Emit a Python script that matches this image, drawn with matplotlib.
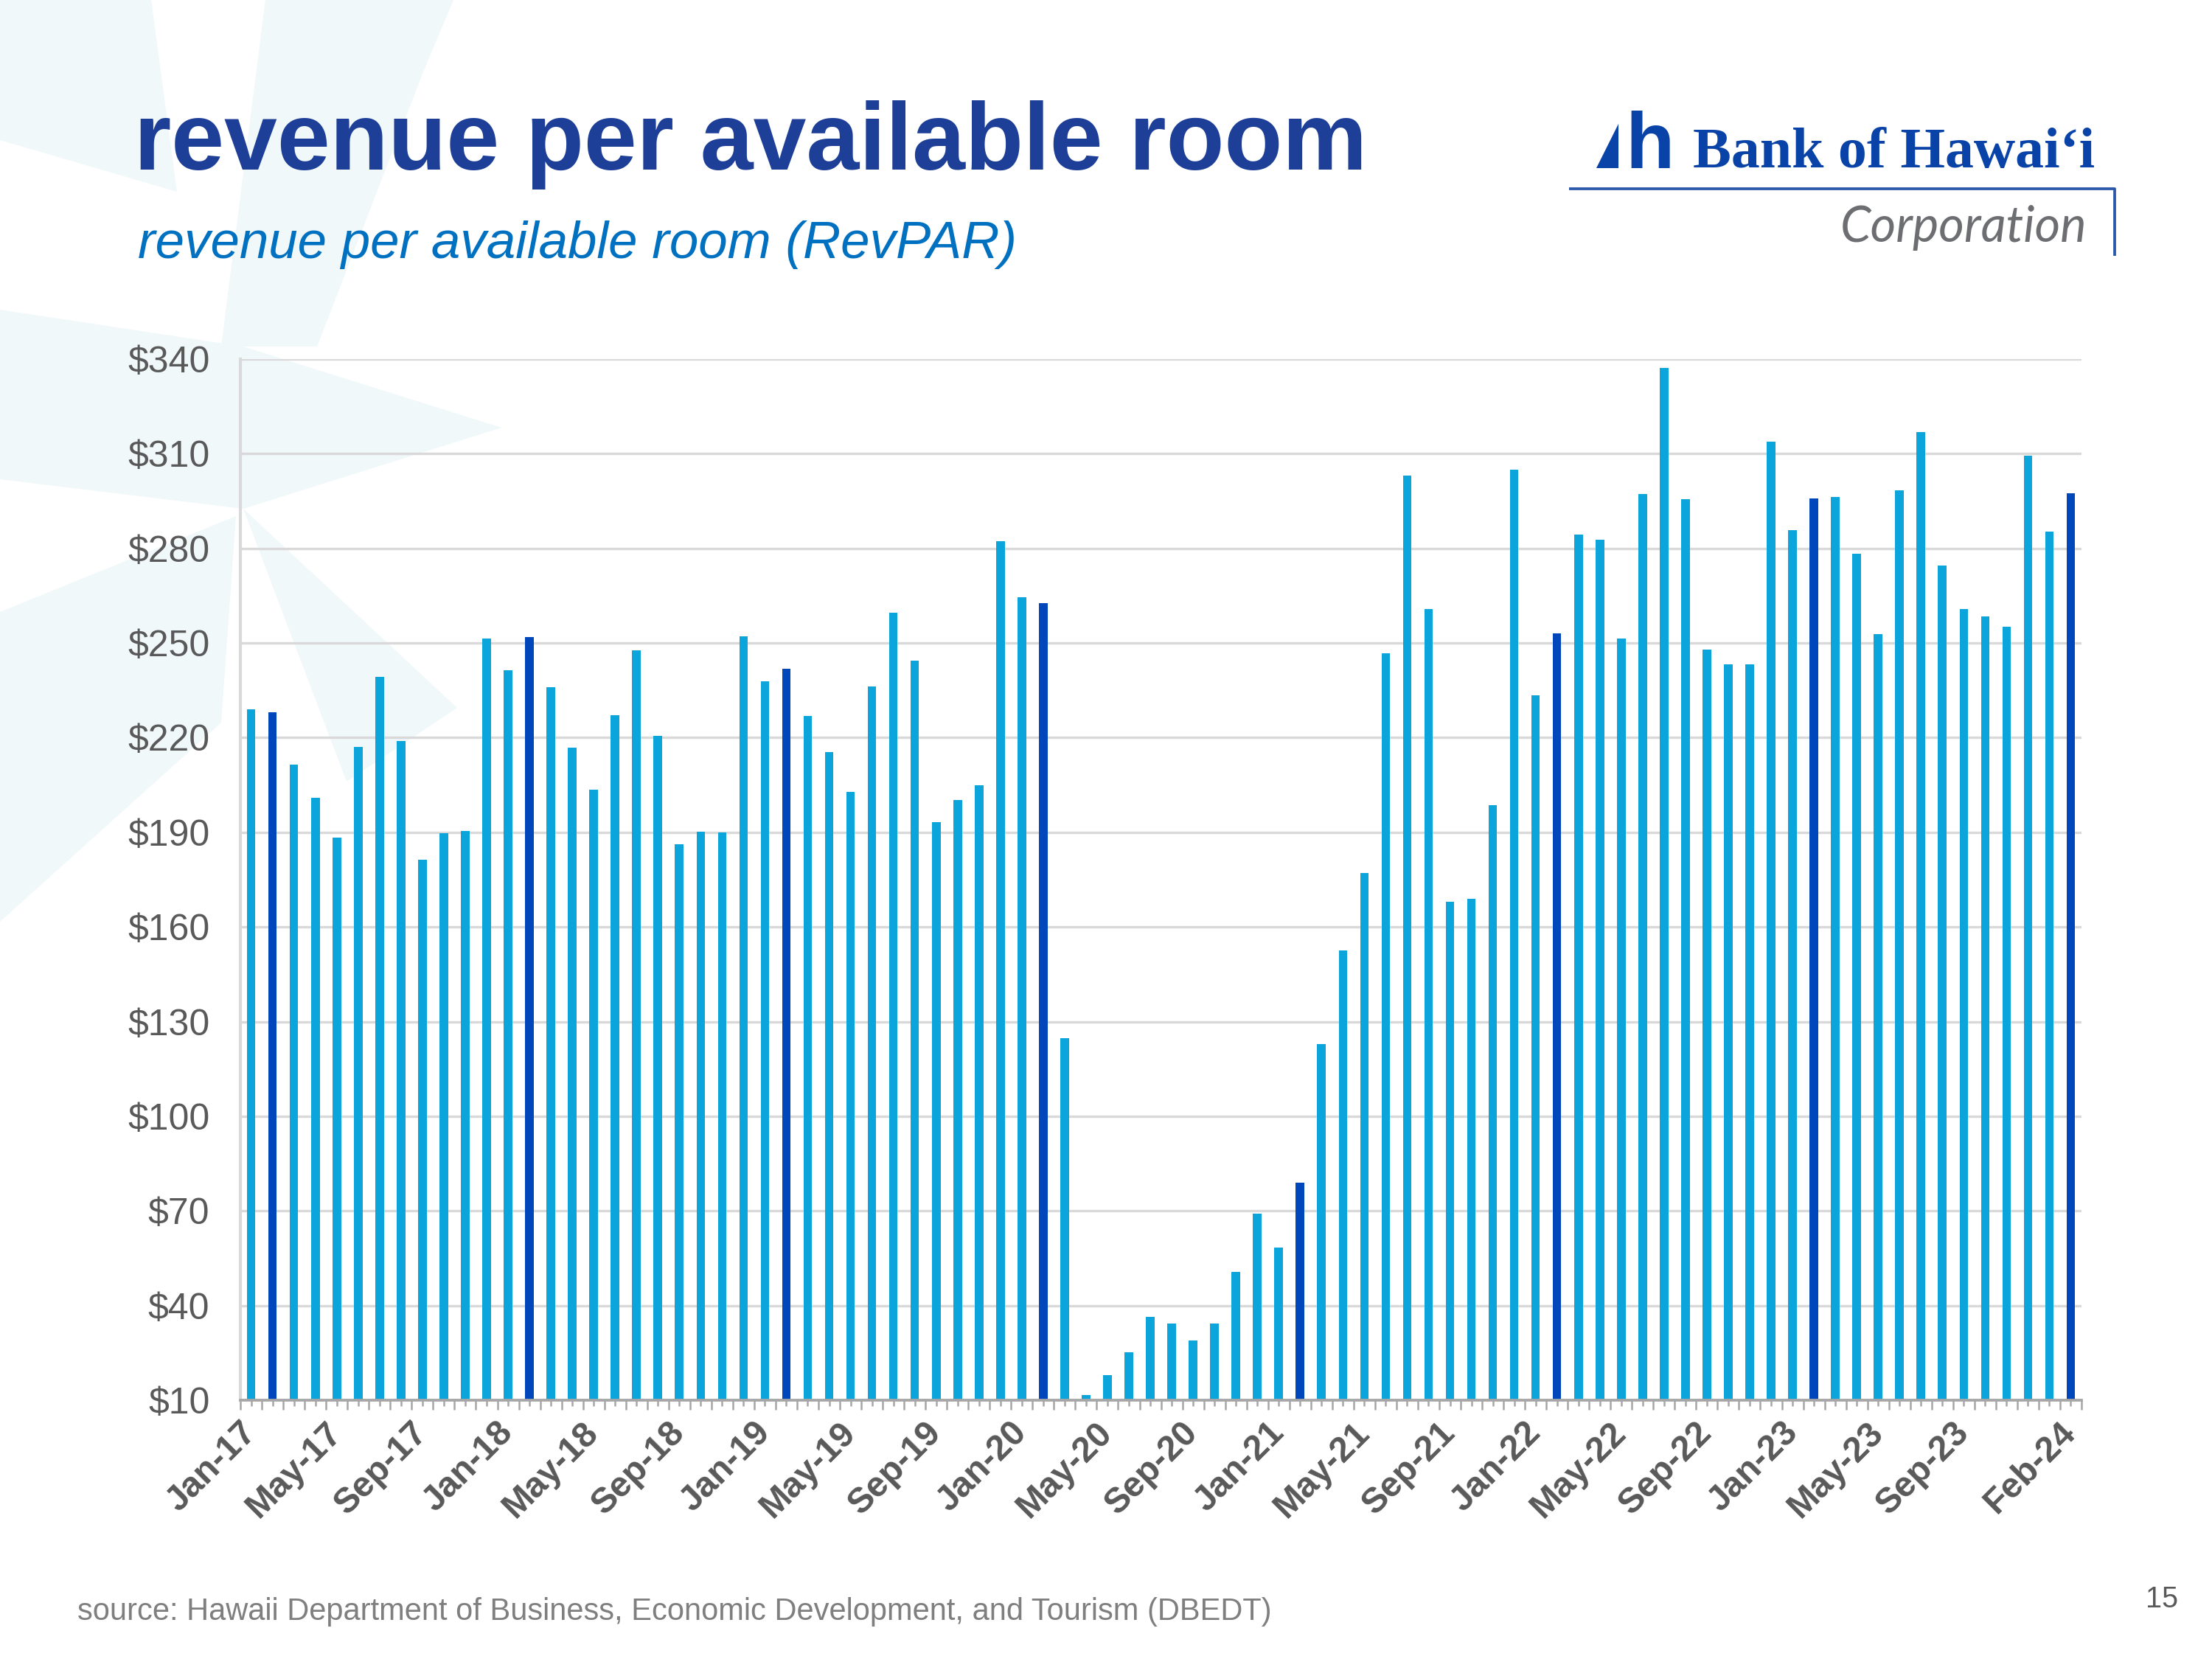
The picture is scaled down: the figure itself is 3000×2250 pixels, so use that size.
import matplotlib.pyplot as plt
from matplotlib.patches import Polygon
import numpy as np
import pandas as pd

# monthly RevPAR, Jan-17 .. Feb-24
revpar = [229, 228, 211.4, 201, 188.3, 217, 239.2, 218.9, 181.2, 189.7, 190.4, 251.4,
          241.3, 251.9, 235.9, 216.8, 203.6, 227.2, 247.7, 220.6, 186.2, 190.2, 190, 252.1,
          237.8, 241.8, 226.9, 215.4, 202.9, 236.1, 259.7, 244.4, 193.2, 200.3, 205, 282.3,
          264.6, 262.7, 124.7, 11.6, 18, 25.3, 36.3, 34.2, 29, 34.2, 50.7, 69.1,
          58.3, 79, 122.8, 152.5, 177.2, 246.7, 303, 260.8, 168, 169, 198.7, 304.9,
          233.5, 253.1, 284.4, 282.8, 251.4, 297.1, 337.2, 295.5, 247.9, 243.2, 243.2, 313.9,
          285.8, 295.7, 296.2, 278.3, 252.8, 298.3, 316.9, 274.5, 260.8, 258.5, 255.2, 309.4,
          285.3, 297.4]
months = pd.date_range("2017-01-01", periods=len(revpar), freq="MS")
month_labels = [m.strftime("%b-%y") for m in months]
labelled = list(range(0, 81, 4)) + [len(revpar) - 1]
y_ticks = list(range(10, 341, 30))

LIGHT = "#0BA5DC"
DARK = "#0047BB"
GREY_TXT = "#595959"

plt.rcParams["font.family"] = ["Liberation Sans", "DejaVu Sans"]

fig = plt.figure(figsize=(10, 7.5), dpi=300)

# background layer in pixel coordinates (watermark, titles, logo)
bg = fig.add_axes([0, 0, 1, 1])
bg.set_xlim(0, 3000)
bg.set_ylim(2250, 0)
bg.axis("off")

wm = "#F0F8F9"
shapes = [
    [(0, 0), (205, 0), (240, 260), (0, 190)],
    [(360, 0), (615, 0), (575, 95), (430, 470), (300, 470)],
    [(0, 420), (330, 470), (680, 580), (330, 690), (0, 650)],
    [(0, 830), (320, 700), (300, 980), (0, 1250)],
    [(330, 690), (620, 960), (470, 1060)],
]
for pts in shapes:
    bg.add_patch(Polygon(pts, closed=True, facecolor=wm, edgecolor="none", zorder=0))

bg.text(182, 230, "revenue per available room", fontsize=31, fontweight="bold",
        color="#1E3F98", ha="left", va="baseline")
bg.text(187, 350, "revenue per available room (RevPAR)", fontsize=17, fontstyle="italic",
        color="#0070C0", ha="left", va="baseline")
bg.text(105, 2197, "source: Hawaii Department of Business, Economic Development, and Tourism (DBEDT)",
        fontsize=10, color="#7F7F7F", ha="left", va="baseline")
bg.text(2954, 2180, "15", fontsize=9.5, color=GREY_TXT, ha="right", va="baseline")

# logo
logo_blue = "#0A43A8"
bg.add_patch(Polygon([(2165, 228), (2195, 228), (2195, 168)], closed=True,
                     facecolor=logo_blue, edgecolor="none"))
bg.text(2204, 228, "h", fontsize=26, fontweight="bold", color=logo_blue,
        ha="left", va="baseline")
bg.text(2296, 227, "Bank of Hawai\u2018i", fontsize=18.7, fontweight="bold",
        family=["Liberation Serif", "DejaVu Serif"], color=logo_blue, ha="left", va="baseline")
bg.plot([2128, 2868, 2868], [256, 256, 347], color="#2A57A8", lw=0.9, solid_capstyle="butt")
bg.text(2830, 328, "Corporation", fontsize=16, fontstyle="italic",
        family=["Lato", "DejaVu Sans"], color="#6D6E71", ha="right", va="baseline")

# chart
ax = fig.add_axes([0.1087, 0.156, 0.8323, 0.6276])
ax.set_facecolor("none")
x = np.arange(len(revpar))
colors = [DARK if m.month == 2 else LIGHT for m in months]
ax.bar(x, revpar, width=0.4, color=colors, zorder=3)

ax.set_xlim(-0.5, len(revpar) - 0.5)
ax.set_ylim(10, 340)
ax.set_yticks(y_ticks)
ax.set_yticklabels([f"${v}" for v in y_ticks])
ax.grid(axis="y", color="#D9D9D9", lw=0.8, zorder=0)
ax.tick_params(axis="y", length=0, pad=10, labelsize=12, labelcolor=GREY_TXT)

# ticks between categories (long) and at bar centres (short)
ax.set_xticks(np.arange(-0.5, len(revpar), 1.0))
ax.set_xticklabels([])
ax.set_xticks(x, minor=True)
ax.set_xticklabels([month_labels[i] if i in labelled else "" for i in x], minor=True)
ax.tick_params(axis="x", which="major", length=3.2, width=0.6, color="#A6A6A6")
ax.tick_params(axis="x", which="minor", length=1.9, width=0.6, color="#A6A6A6",
               pad=7, labelsize=11.5, labelcolor=GREY_TXT)
for lab in ax.get_xticklabels(minor=True):
    lab.set_rotation(45)
    lab.set_ha("right")
    lab.set_va("center")
    lab.set_rotation_mode("anchor")
    lab.set_fontweight("bold")

for side in ("top", "right"):
    ax.spines[side].set_visible(False)
ax.spines["left"].set_color("#D9D9D9")
ax.spines["left"].set_linewidth(1.0)
ax.spines["bottom"].set_color("#A6A6A6")
ax.spines["bottom"].set_linewidth(0.9)
ax.spines["bottom"].set_zorder(4)

fig.savefig("out.png", dpi=300)
